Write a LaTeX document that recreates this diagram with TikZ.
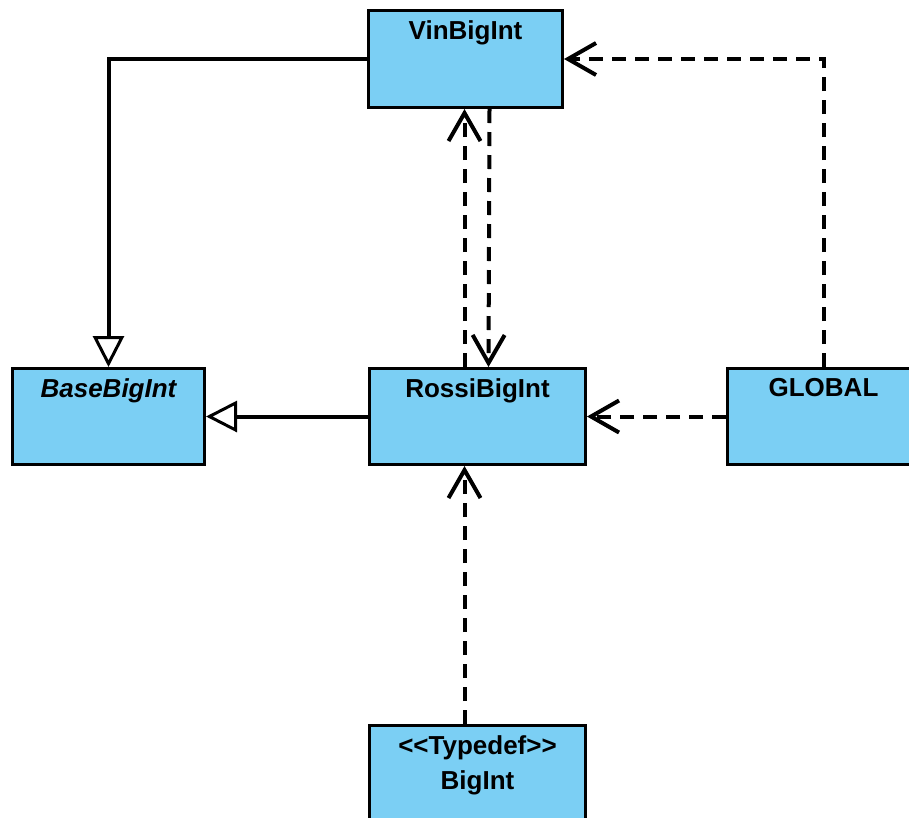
\documentclass[tikz,border=0pt]{standalone}
\usepackage{fontspec}
\setmainfont{Liberation Sans}
\usetikzlibrary{arrows.meta,calc}
\definecolor{classfill}{HTML}{7BCFF4}
\tikzset{
  classbox/.style={draw=black, line width=3pt, fill=classfill, rectangle,
    anchor=north west, inner sep=0pt},
  classname/.style={anchor=north, inner xsep=0pt, inner ysep=11pt,
    font=\fontsize{26}{35}\selectfont\bfseries, align=center},
  inherit/.style={line width=4pt, -{Triangle[open, fill=white, length=31pt, width=31pt, line width=3pt]}},
  depend/.style={line width=4pt, dash pattern=on 14pt off 9pt,
    -{Straight Barb[length=28pt, width=32pt, line width=4pt]}},
}
\begin{document}
\begin{tikzpicture}[x=1pt, y=-1pt]
  \clip (0,0) rectangle (909,817);
  \fill[white] (0,0) rectangle (909,817);

  % class boxes
  \node[classbox, minimum width=194pt, minimum height=97pt] (vin)    at (367,9)   {};
  \node[classbox, minimum width=192pt, minimum height=96pt] (base)   at (11,367)  {};
  \node[classbox, minimum width=216pt, minimum height=96pt] (rossi)  at (368,367) {};
  \node[classbox, minimum width=192pt, minimum height=96pt] (global) at (726,367) {};
  \node[classbox, minimum width=216pt, minimum height=120pt] (bigint) at (368,724) {};

  % class names
  \node[classname] (vinname)    at (vin.north)    {VinBigInt};
  \node[classname] (basename)   at (base.north)   {\itshape BaseBigInt};
  \node[classname] (rossiname)  at (rossi.north)  {RossiBigInt};
  \node[classname] (globalname) at (global.north) {GLOBAL};
  \node[classname] (bigintname) at (bigint.north) {{<}{<}Typedef{>}{>}\\BigInt};

  % generalisations
  \draw[inherit] (vin.west) -| (base.north);
  \draw[inherit] (rossi.west) -- (base.east);

  % dependencies
  \draw[depend] ($(rossi.north)+(-13,0)$) -- ($(vin.south)+(-1,0)$);
  \draw[depend] ($(vin.south)+(24,0)$) -- ($(rossi.north)+(11,0)$);
  \draw[depend] (global.north) |- (vin.east);
  \draw[depend] (global.west) -- (rossi.east);
  \draw[depend] ($(bigint.north)+(-13,0)$) -- ($(rossi.south)+(-13,0)$);
\end{tikzpicture}
\end{document}
